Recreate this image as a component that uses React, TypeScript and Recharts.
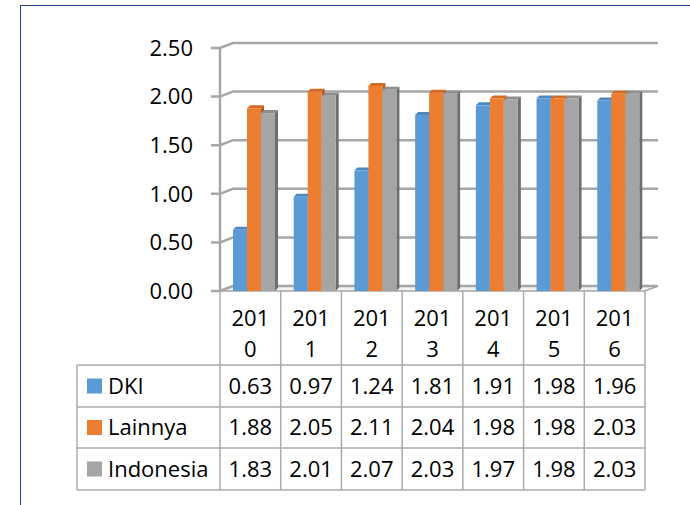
import React from 'react';
import { BarChart, Bar, XAxis, YAxis, CartesianGrid, Customized } from 'recharts';

// ---- data ----
const categories = ['2010', '2011', '2012', '2013', '2014', '2015', '2016'];
const dki = [0.63, 0.97, 1.24, 1.81, 1.91, 1.98, 1.96];
const lainnya = [1.88, 2.05, 2.11, 2.04, 1.98, 1.98, 2.03];
const indonesia = [1.83, 2.01, 2.07, 2.03, 1.97, 1.98, 2.03];
const yTicks = [0, 0.5, 1, 1.5, 2, 2.5];
const seriesNames = ['DKI', 'Lainnya', 'Indonesia'];
const seriesValues = [dki, lainnya, indonesia];

// ---- styles ----
const seriesColors = ['#5B9BD5', '#ED7D31', '#A5A5A5'];
const topColors = ['#4A88C2', '#D56A22', '#8E8E8E'];
const sideColors = ['#3F74A8', '#B9591B', '#6E6E6E'];
const FONT = '"Open Sans", sans-serif';
const FS = 22;
const GRID = '#A6A6A6';
const TABLE_LINE = '#ABABAB';
const FRAME = '#1F3F8F';

const W = 690;
const H = 505;
const PLOT_L = 220;
const PLOT_R = 645;
const PLOT_T = 48;
const PLOT_B = 291;
const COL_W = (PLOT_R - PLOT_L) / categories.length;
const DEPTH_X = 13;
const DEPTH_Y = 5;
const ROW_LINES = [365, 407, 448, 490];
const ROW_CENTERS = [386, 427.5, 469];
const TABLE_L = 77;

const data = categories.map((c, i) => ({
  year: c,
  DKI: dki[i],
  Lainnya: lainnya[i],
  Indonesia: indonesia[i],
}));

const gridLine = (props: any) => {
  const { x1, y1, x2, key } = props;
  const isFloor = Math.abs(y1 - PLOT_B) < 1;
  return (
    <g key={key}>
      {isFloor && (
        <polygon
          points={`${x1},${y1} ${x2},${y1} ${x2 + DEPTH_X},${y1 - DEPTH_Y} ${x1 + DEPTH_X},${y1 - DEPTH_Y}`}
          fill="#F2F2F2"
          stroke={GRID}
          strokeWidth={1.5}
        />
      )}
      <path
        d={`M${x1 - 9},${y1} L${x1},${y1} L${x1 + DEPTH_X},${y1 - DEPTH_Y} L${x2 + DEPTH_X},${y1 - DEPTH_Y}`}
        fill="none"
        stroke={GRID}
        strokeWidth={2.5}
      />
    </g>
  );
};

const makeBar = (k: number) => (props: any) => {
  const { x, y, width, height } = props;
  if (height == null || width == null) return <g />;
  const sx = x + 3;
  const d = 3;
  return (
    <g>
      <path
        d={`M${sx},${y} L${sx + d},${y - d} L${sx + width + d},${y - d} L${sx + width},${y} Z`}
        fill={topColors[k]}
      />
      <path
        d={`M${sx + width},${y} L${sx + width + d},${y - d} L${sx + width + d},${y + height - d} L${sx + width},${y + height} Z`}
        fill={sideColors[k]}
      />
      <rect x={sx} y={y} width={width} height={height} fill={seriesColors[k]} />
    </g>
  );
};

const TableColumn = (props: any) => {
  const { x, payload } = props;
  const label = String(payload.value);
  const i = categories.indexOf(label);
  const left = x - COL_W / 2;
  const right = x + COL_W / 2;
  const txt = { fontFamily: FONT, fontSize: FS, fill: '#000', textAnchor: 'middle' as const };
  return (
    <g>
      <line x1={left} y1={PLOT_B} x2={left} y2={ROW_LINES[3]} stroke={TABLE_LINE} strokeWidth={1.5} />
      {i === categories.length - 1 && (
        <line x1={right} y1={PLOT_B} x2={right} y2={ROW_LINES[3]} stroke={TABLE_LINE} strokeWidth={1.5} />
      )}
      <text x={x} y={318} dy="0.36em" {...txt}>{label.slice(0, 3)}</text>
      <text x={x} y={349} dy="0.36em" {...txt}>{label.slice(3)}</text>
      {seriesValues.map((vals, k) => (
        <text key={k} x={x} y={ROW_CENTERS[k]} dy="0.36em" {...txt}>
          {vals[i].toFixed(2)}
        </text>
      ))}
    </g>
  );
};

const LegendColumn = () => (
  <g>
    {ROW_LINES.map((y, k) => (
      <line key={k} x1={TABLE_L} y1={y} x2={PLOT_R} y2={y} stroke={TABLE_LINE} strokeWidth={1.5} />
    ))}
    <line x1={TABLE_L} y1={ROW_LINES[0]} x2={TABLE_L} y2={ROW_LINES[3]} stroke={TABLE_LINE} strokeWidth={1.5} />
    {seriesNames.map((name, k) => (
      <g key={name}>
        <rect x={87} y={ROW_CENTERS[k] - 7.5} width={15} height={15} fill={seriesColors[k]} />
        <text x={108} y={ROW_CENTERS[k]} dy="0.36em" fontFamily={FONT} fontSize={FS} fill="#000">
          {name}
        </text>
      </g>
    ))}
  </g>
);

export default function App() {
  return (
    <div style={{ position: 'absolute', left: 0, top: 0, width: W, height: H, background: '#fff' }}>
      <div
        style={{
          position: 'absolute',
          left: 20,
          top: 5,
          width: W - 20,
          height: H - 5,
          borderTop: `1.6px solid ${FRAME}`,
          borderLeft: `1.6px solid ${FRAME}`,
          boxSizing: 'border-box',
        }}
      />
      <div style={{ position: 'absolute', left: 0, top: 0 }}>
        <BarChart
          width={W}
          height={H}
          data={data}
          margin={{ top: PLOT_T, right: W - PLOT_R, bottom: 0, left: 20 }}
          barCategoryGap={10}
          barGap={0}
        >
          <CartesianGrid vertical={false} horizontal={gridLine} />
          <XAxis
            dataKey="year"
            height={H - PLOT_B}
            axisLine={false}
            tickLine={false}
            interval={0}
            tick={<TableColumn />}
          />
          <YAxis
            type="number"
            domain={[0, 2.5]}
            ticks={yTicks}
            interval={0}
            width={PLOT_L - 20}
            tickSize={0}
            tickMargin={27}
            tickLine={false}
            axisLine={{ stroke: GRID, strokeWidth: 2.5 }}
            tick={{ fontFamily: FONT, fontSize: FS, fill: '#000' }}
            tickFormatter={(v: number) => v.toFixed(2)}
          />
          {seriesNames.map((name, k) => (
            <Bar key={name} dataKey={name} fill={seriesColors[k]} shape={makeBar(k)} isAnimationActive={false} />
          ))}
          <Customized component={LegendColumn} />
        </BarChart>
      </div>
    </div>
  );
}
